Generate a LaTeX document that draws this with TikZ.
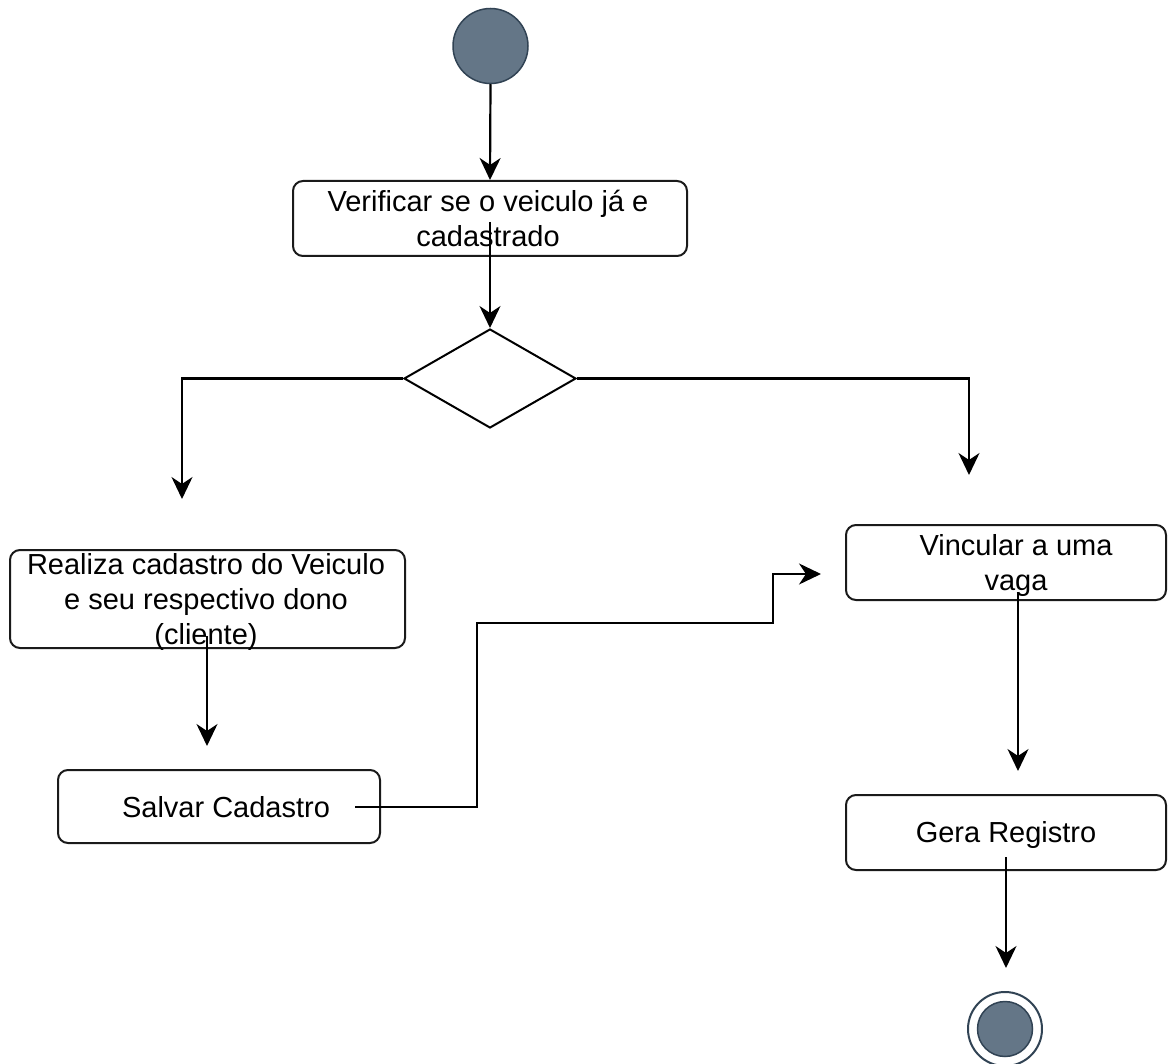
\documentclass[tikz,border=0pt]{standalone}
\usepackage{fontspec}
\setmainfont{Liberation Sans}
\usetikzlibrary{arrows.meta,shapes.geometric}
\definecolor{nodefill}{HTML}{647687}
\definecolor{nodeline}{HTML}{314354}
\definecolor{boxline}{HTML}{1A1A1A}
\begin{document}
\begin{tikzpicture}[x=1pt,y=-1pt,
  box/.style={draw=boxline,line width=2pt,rounded corners=10pt,inner sep=0pt,fill=white},
  lbl/.style={font=\fontsize{29}{35}\selectfont,align=center,inner sep=0pt,anchor=base},
  flow/.style={line width=2.2pt,-{Stealth[length=22pt,width=21pt,inset=7pt]}},
  startnode/.style={circle,fill=nodefill,draw=nodeline,line width=1.5pt,minimum size=75pt,inner sep=0pt},
  decision/.style={diamond,draw=black,line width=2pt,minimum width=172pt,minimum height=99pt,inner sep=0pt,fill=white}]
\useasboundingbox (0,0) rectangle (1168,1064);

% start
\node[startnode] (start) at (490.5,46) {};

% activities (each label is placed by the baseline of its last line)
\node[box,minimum width=394pt,minimum height=75pt] (verif) at (490,218.5) {};
\node[lbl] (verift) at (488,247) {Verificar se o veiculo já e\\cadastrado};

\node[decision] (dec) at (490,378.5) {};

\node[box,minimum width=395pt,minimum height=98pt] (cad) at (207.5,599) {};
\node[lbl] (cadt) at (206,644) {Realiza cadastro do Veiculo\\e seu respectivo dono\\(cliente)};

\node[box,minimum width=322pt,minimum height=73pt] (salvar) at (219,806.5) {};
\node[lbl] (salvart) at (226,817) {Salvar Cadastro};

\node[box,minimum width=320pt,minimum height=75pt] (vinc) at (1006,562.5) {};
\node[lbl] (vinct) at (1016,590) {Vincular a uma\\vaga};

\node[box,minimum width=320pt,minimum height=75pt] (gera) at (1006,832.5) {};
\node[lbl] (gerat) at (1006,842) {Gera Registro};

% end
\node[circle,draw=nodeline,line width=2pt,minimum size=74pt,inner sep=0pt] (fim) at (1005,1029) {};
\node[circle,fill=nodefill,draw=nodeline,line width=1.5pt,minimum size=55pt,inner sep=0pt] (fimin) at (1005,1029) {};

% connector end points
\coordinate (v1) at (490,222);
\coordinate (lt) at (182,499);
\coordinate (rt) at (969,475);
\coordinate (c1) at (207,636);
\coordinate (c2) at (207,746);
\coordinate (s1) at (355,807);
\coordinate (s2) at (821,574);
\coordinate (g1) at (1018,592);
\coordinate (g2) at (1018,771);
\coordinate (e1) at (1006,857);
\coordinate (e2) at (1006,968);

% connectors
\draw[flow] (start.south) -- (verif.north);
\draw[flow] (v1) -- (dec.north);
\draw[flow] (dec.west) -| (lt);
\draw[flow] (dec.east) -| (rt);
\draw[flow] (c1) -- (c2);
\draw[flow] (s1) -- (477,807) -- (477,623) -- (773,623) -- (773,574) -- (s2);
\draw[flow] (g1) -- (g2);
\draw[flow] (e1) -- (e2);
\end{tikzpicture}
\end{document}
